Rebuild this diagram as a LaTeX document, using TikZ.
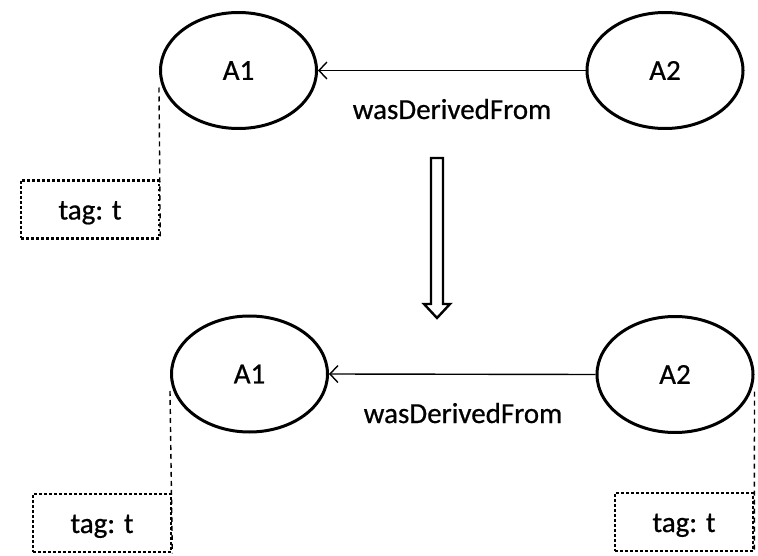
\documentclass[tikz,border=0pt]{standalone}
\usepackage{fontspec}
\setmainfont{Carlito}[FakeBold=0.6]
\usetikzlibrary{shapes.geometric,arrows.meta}
\begin{document}
\begin{tikzpicture}[x=1pt,y=-1pt,
  entity/.style={ellipse,draw,line width=3pt,minimum width=156pt,minimum height=116pt,inner sep=0pt,
    font=\fontsize{29}{34}\selectfont},
  tagbox/.style={draw,line width=2.6pt,dash pattern=on 2.6pt off 2.4pt,minimum width=138pt,minimum height=58pt,
    inner sep=0pt,text height=20pt,text depth=0pt,font=\fontsize{29}{34}\selectfont},
  relation/.style={line width=1.4pt,-{Straight Barb[length=8pt,width=17pt,line width=1.4pt]}},
  rellabel/.style={anchor=base,font=\fontsize{29}{34}\selectfont,inner sep=0pt},
  tagline/.style={line width=1.4pt,dash pattern=on 5pt off 4pt}]
\useasboundingbox (0,0) rectangle (758,556);

% before: tag attached to A1 only
\node[entity] (A1t) at (238.5,70.5) {A1};
\node[entity] (A2t) at (665,70.5) {A2};
\draw[relation] (A2t.west) -- (A1t.east);
\node[rellabel] (Lt) at (452,119) {wasDerivedFrom};
\node[tagbox] (T1t) at (90,209.5) {tag: t};
\draw[tagline] ([yshift=-17pt]A1t.west) -- (T1t.south east);

% transformation arrow
\draw[line width=2.4pt,line join=miter,fill=white]
  (431,158) -- (443,158) -- (443,304) -- (450,304) -- (437,318) -- (424,304) -- (431,304) -- cycle;

% after: tag propagated to A2
\node[entity] (A1b) at (249.5,374) {A1};
\node[entity] (A2b) at (675,374.5) {A2};
\draw[relation] (A2b.west) -- (A1b.east);
\node[rellabel] (Lb) at (463,423) {wasDerivedFrom};
\node[tagbox] (T1b) at (102,523) {tag: t};
\node[tagbox] (T2b) at (684,522) {tag: t};
\draw[tagline] ([yshift=-17pt]A1b.west) -- (T1b.south east);
\draw[tagline] ([yshift=-17pt]A2b.east) -- (T2b.south east);
\end{tikzpicture}
\end{document}
